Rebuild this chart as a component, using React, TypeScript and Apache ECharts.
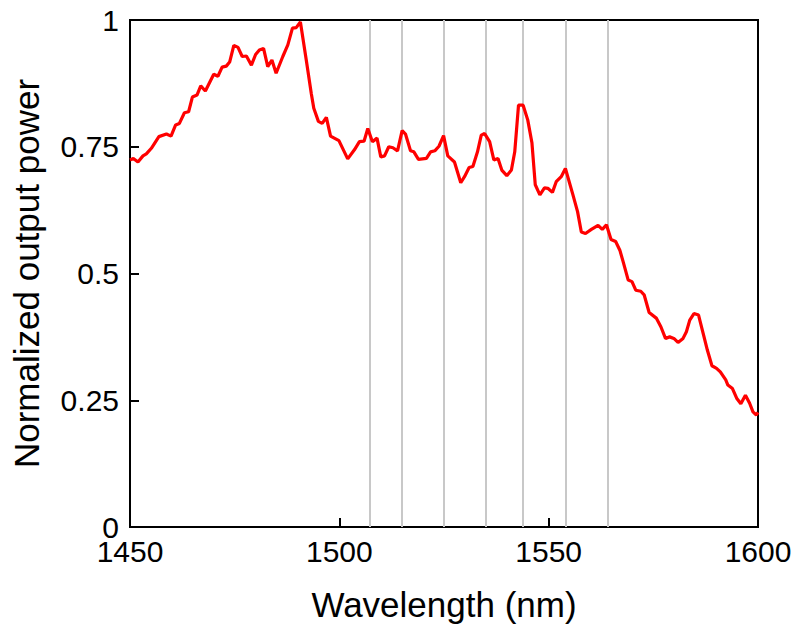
import React, { useEffect, useRef } from "react";
import * as echarts from "echarts";

const wavelengths = [
  1450.0, 1450.8, 1451.9, 1453.1, 1453.9, 1455.1, 1456.9, 1458.7, 1459.8, 1460.9,
  1461.8, 1463.0, 1464.0, 1464.9, 1466.0, 1466.9, 1468.0, 1470.0, 1471.0, 1472.0,
  1473.0, 1473.8, 1474.8, 1475.8, 1476.8, 1477.8, 1479.0, 1480.0, 1480.9, 1481.9,
  1482.9, 1483.9, 1484.9, 1486.5, 1487.7, 1488.8, 1489.7, 1490.7, 1492.1, 1493.3,
  1493.9, 1495.0, 1495.9, 1496.9, 1497.9, 1499.9, 1502.0, 1503.6, 1504.8, 1505.9,
  1506.8, 1507.9, 1509.0, 1509.9, 1510.8, 1511.8, 1512.8, 1513.9, 1515.0, 1515.8,
  1517.0, 1517.8, 1518.9, 1520.8, 1521.8, 1522.8, 1523.8, 1524.9, 1525.9, 1527.5,
  1529.0, 1529.9, 1531.0, 1531.9, 1533.0, 1533.9, 1534.7, 1535.9, 1536.9, 1537.9,
  1538.8, 1540.0, 1541.1, 1541.9, 1542.8, 1543.9, 1545.0, 1546.0, 1546.8, 1547.9,
  1549.0, 1549.8, 1550.9, 1551.8, 1553.0, 1554.0, 1555.8, 1556.9, 1557.8, 1558.8,
  1560.2, 1561.8, 1562.8, 1563.8, 1564.9, 1566.0, 1567.0, 1567.8, 1569.0, 1569.9,
  1570.8, 1572.0, 1572.8, 1574.0, 1575.7, 1576.8, 1577.9, 1578.9, 1579.9, 1580.9,
  1582.1, 1582.9, 1583.7, 1584.7, 1585.8, 1586.9, 1587.9, 1589.0, 1590.1, 1591.0,
  1592.3, 1592.8, 1593.9, 1594.9, 1595.9, 1597.0, 1598.0, 1598.8, 1599.6, 1600.0,
];

const outputPower = [
  0.724, 0.727, 0.72, 0.732, 0.736, 0.747, 0.77, 0.775, 0.771, 0.793,
  0.796, 0.817, 0.819, 0.848, 0.852, 0.87, 0.86, 0.893, 0.889, 0.907,
  0.909, 0.917, 0.95, 0.946, 0.928, 0.929, 0.911, 0.932, 0.941, 0.944,
  0.908, 0.921, 0.895, 0.928, 0.951, 0.984, 0.985, 0.996, 0.921, 0.855,
  0.826, 0.8, 0.796, 0.808, 0.771, 0.762, 0.726, 0.744, 0.76, 0.761,
  0.786, 0.76, 0.767, 0.73, 0.732, 0.75, 0.748, 0.742, 0.782, 0.775,
  0.742, 0.74, 0.725, 0.727, 0.74, 0.742, 0.751, 0.772, 0.732, 0.72,
  0.679, 0.691, 0.709, 0.711, 0.74, 0.773, 0.776, 0.76, 0.724, 0.727,
  0.704, 0.693, 0.704, 0.74, 0.832, 0.832, 0.803, 0.758, 0.675, 0.655,
  0.669, 0.668, 0.66, 0.681, 0.691, 0.707, 0.655, 0.622, 0.582, 0.579,
  0.587, 0.595, 0.587, 0.596, 0.567, 0.563, 0.546, 0.523, 0.487, 0.484,
  0.467, 0.465, 0.458, 0.423, 0.412, 0.395, 0.372, 0.375, 0.372, 0.364,
  0.372, 0.385, 0.408, 0.421, 0.418, 0.382, 0.349, 0.318, 0.313, 0.306,
  0.29, 0.28, 0.273, 0.254, 0.243, 0.26, 0.244, 0.227, 0.221, 0.226,
];

const markerWavelengths = [1507.2, 1515.0, 1525.0, 1535.0, 1543.8, 1554.0, 1564.0];

const xTitle = "Wavelength (nm)";
const yTitle = "Normalized output power";

export default function App() {
  const ref = useRef<HTMLDivElement>(null);

  useEffect(() => {
    if (!ref.current) return;
    const chart = echarts.init(ref.current, null, { renderer: "svg" });
    const font = "'Liberation Sans', Arial, sans-serif";
    chart.setOption({
      animation: false,
      backgroundColor: "#ffffff",
      grid: {
        left: 130,
        right: 40,
        top: 20,
        bottom: 104,
        show: true,
        borderColor: "#000000",
        borderWidth: 2,
        backgroundColor: "transparent",
      },
      xAxis: {
        type: "value",
        min: 1450,
        max: 1600,
        interval: 50,
        name: xTitle,
        nameLocation: "middle",
        nameGap: 60,
        nameTextStyle: { fontFamily: font, fontSize: 35, color: "#000" },
        axisLine: { show: true, lineStyle: { color: "#000", width: 2 } },
        axisTick: { show: true, inside: true, length: 9, lineStyle: { color: "#000", width: 2 } },
        axisLabel: {
          fontFamily: font,
          fontSize: 30,
          lineHeight: 24,
          color: "#000",
          margin: 12,
          formatter: (v: number) => String(v),
        },
        splitLine: { show: false },
      },
      yAxis: {
        type: "value",
        min: 0,
        max: 1,
        interval: 0.25,
        name: yTitle,
        nameLocation: "middle",
        nameGap: 86,
        nameRotate: 90,
        nameTextStyle: { fontFamily: font, fontSize: 35, color: "#000" },
        axisLine: { show: true, lineStyle: { color: "#000", width: 2 } },
        axisTick: { show: true, inside: true, length: 9, lineStyle: { color: "#000", width: 2 } },
        axisLabel: { fontFamily: font, fontSize: 30, lineHeight: 22, color: "#000", margin: 11 },
        splitLine: { show: false },
      },
      series: [
        {
          type: "line",
          data: wavelengths.map((w, i) => [w, outputPower[i]]),
          showSymbol: false,
          symbol: "none",
          lineStyle: { color: "#ff0000", width: 3.2 },
          z: 3,
          markLine: {
            silent: true,
            symbol: ["none", "none"],
            label: { show: false },
            lineStyle: { color: "#c8c8c8", width: 2, type: "solid" },
            data: markerWavelengths.map((w) => ({ xAxis: w })),
            z: 1,
          },
        },
      ],
    });
    return () => chart.dispose();
  }, []);

  return (
    <div
      ref={ref}
      style={{ position: "absolute", left: 0, top: 0, width: 798, height: 631 }}
    />
  );
}
